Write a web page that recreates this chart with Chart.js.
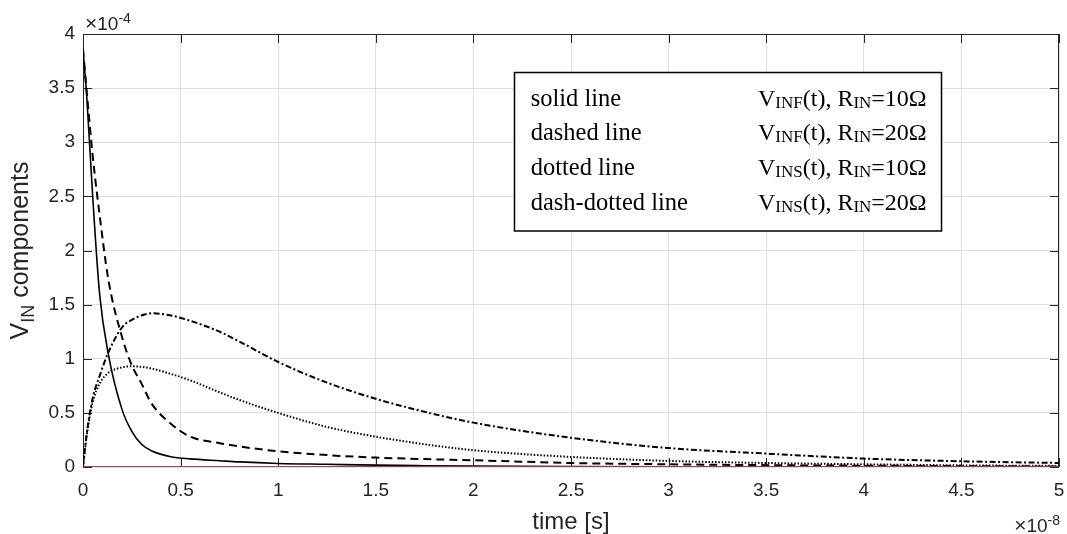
<!DOCTYPE html>
<html>
<head>
<meta charset="utf-8">
<title>V_IN components</title>
<script src="https://cdn.jsdelivr.net/npm/chart.js"></script>
<style>
  body { margin: 0; background: #fff; }
  canvas { display: block; }
</style>
</head>
<body>
<canvas id="chart" width="1067" height="534"></canvas>
<script>
// time in units of 1e-8 s, voltages in units of 1e-4
const time    = [0, 0.02, 0.05, 0.085, 0.13, 0.2, 0.25, 0.3, 0.35, 0.45, 0.55, 0.7, 0.8, 1.0, 1.25, 1.5, 1.75, 2.0, 2.5, 3.0, 3.5, 4.0, 4.5, 5.0];
const vinfR10 = [3.86, 3.4, 2.49, 1.6, 1.04, 0.53, 0.33, 0.21, 0.15, 0.095, 0.075, 0.058, 0.047, 0.033, 0.025, 0.017, 0.012, 0.008, 0.004, 0.002, 0.001, 0.0005, 0, 0];
const vinfR20 = [3.86, 3.45, 2.87, 2.33, 1.73, 1.2, 0.94, 0.77, 0.59, 0.40, 0.28, 0.22, 0.19, 0.145, 0.11, 0.087, 0.073, 0.062, 0.037, 0.025, 0.017, 0.012, 0.008, 0.005];
const vinsR10 = [0, 0.3, 0.6, 0.77, 0.87, 0.92, 0.93, 0.925, 0.91, 0.86, 0.80, 0.69, 0.62, 0.50, 0.37, 0.28, 0.21, 0.155, 0.093, 0.056, 0.037, 0.025, 0.015, 0.01];
const vinsR20 = [0, 0.32, 0.64, 0.84, 1.06, 1.29, 1.36, 1.40, 1.42, 1.40, 1.35, 1.25, 1.16, 0.97, 0.78, 0.63, 0.51, 0.41, 0.27, 0.175, 0.124, 0.078, 0.053, 0.037];
const zeroTime = [0, 5];
const zeroVals = [0, 0];

const xTickLabels = ['0', '0.5', '1', '1.5', '2', '2.5', '3', '3.5', '4', '4.5', '5'];
const yTickLabels = ['0', '0.5', '1', '1.5', '2', '2.5', '3', '3.5', '4'];

const legendRows = [
  ['solid line', 'INF', '10'],
  ['dashed line', 'INF', '20'],
  ['dotted line', 'INS', '10'],
  ['dash-dotted line', 'INS', '20']
];

const ink = '#262626';
const gridColor = '#dedede';
const sans = '"Liberation Sans", Arial, sans-serif';
const serif = '"Liberation Serif", "Times New Roman", serif';

const pts = (xs, ys) => xs.map((t, i) => ({ x: t, y: ys[i] }));

// draws runs of text with their own size / vertical offset, left to right
function richText(ctx, parts, x, y, align) {
  let total = 0;
  parts.forEach(p => { ctx.font = p.size + 'px ' + p.family; p.w = ctx.measureText(p.t).width; total += p.w; });
  let cx = align === 'right' ? x - total : align === 'center' ? x - total / 2 : x;
  parts.forEach(p => {
    ctx.font = p.size + 'px ' + p.family;
    ctx.fillText(p.t, cx, y + (p.dy || 0));
    cx += p.w;
  });
}

const decorations = {
  id: 'decorations',
  // axes box and inward ticks go under the curves so the red zero line shows on top
  beforeDatasetsDraw(chart) {
    const { ctx, chartArea: a, scales: { x, y } } = chart;
    ctx.save();
    ctx.strokeStyle = ink;
    ctx.lineWidth = 1;
    ctx.strokeRect(a.left + 0.5, a.top + 0.5, a.right - a.left - 1, a.bottom - a.top - 1);
    ctx.beginPath();
    x.ticks.forEach(t => {
      const px = Math.round(x.getPixelForValue(t.value)) + 0.5;
      ctx.moveTo(px, a.bottom); ctx.lineTo(px, a.bottom - 9);
      ctx.moveTo(px, a.top); ctx.lineTo(px, a.top + 9);
    });
    y.ticks.forEach(t => {
      const py = Math.round(y.getPixelForValue(t.value)) + 0.5;
      ctx.moveTo(a.left, py); ctx.lineTo(a.left + 9, py);
      ctx.moveTo(a.right, py); ctx.lineTo(a.right - 9, py);
    });
    ctx.stroke();
    ctx.restore();
  },
  afterDraw(chart) {
    const { ctx, chartArea: a } = chart;
    ctx.save();
    ctx.fillStyle = ink;
    ctx.textBaseline = 'alphabetic';

    // exponent labels
    richText(ctx, [
      { t: '\u00d7', size: 21, family: sans },
      { t: '10', size: 19, family: sans },
      { t: '-4', size: 14, family: sans, dy: -7 }
    ], 85, 30, 'left');
    richText(ctx, [
      { t: '\u00d7', size: 21, family: sans },
      { t: '10', size: 19, family: sans },
      { t: '-8', size: 14, family: sans, dy: -7 }
    ], 1060, 532, 'right');

    // axis titles
    richText(ctx, [{ t: 'time [s]', size: 24, family: sans }], (a.left + a.right) / 2, 529, 'center');
    ctx.save();
    ctx.translate(28, (a.top + a.bottom) / 2);
    ctx.rotate(-Math.PI / 2);
    richText(ctx, [
      { t: 'V', size: 25, family: sans },
      { t: 'IN', size: 18, family: sans, dy: 6 },
      { t: ' components', size: 25, family: sans }
    ], 0, 0, 'center');
    ctx.restore();

    // legend box
    ctx.fillStyle = '#fff';
    ctx.fillRect(514, 72, 428, 159);
    ctx.strokeStyle = '#000';
    ctx.lineWidth = 1.5;
    ctx.strokeRect(514.5, 72.5, 427, 158.5);
    ctx.fillStyle = '#000';
    legendRows.forEach((row, i) => {
      const base = 105.7 + i * 34.67;
      richText(ctx, [{ t: row[0], size: 24.5, family: serif }], 530.7, base, 'left');
      richText(ctx, [
        { t: 'V', size: 24, family: serif },
        { t: row[1], size: 17, family: serif, dy: 2 },
        { t: '(t), R', size: 24, family: serif },
        { t: 'IN', size: 17, family: serif, dy: 2 },
        { t: '=' + row[2] + '\u03a9', size: 24, family: serif }
      ], 926.7, base, 'right');
    });
    ctx.restore();
  }
};

const line = (data, dash, width) => ({
  data, borderColor: '#000', borderWidth: width, borderDash: dash,
  pointRadius: 0, fill: false, cubicInterpolationMode: 'monotone'
});

new Chart(document.getElementById('chart'), {
  type: 'line',
  data: {
    datasets: [
      { data: pts(zeroTime, zeroVals), borderColor: 'rgb(200,85,95)', borderWidth: 1.5, pointRadius: 0 },
      line(pts(time, vinfR10), [], 1.6),
      line(pts(time, vinfR20), [8, 5], 2),
      line(pts(time, vinsR10), [1.5, 1.8], 2),
      line(pts(time, vinsR20), [6, 2.5, 2, 2.5], 2)
    ]
  },
  options: {
    responsive: false,
    animation: false,
    events: [],
    layout: { padding: { top: 34, right: 8, left: 0, bottom: 0 } },
    plugins: { legend: { display: false }, tooltip: { enabled: false } },
    scales: {
      x: {
        type: 'linear', min: 0, max: 5,
        afterFit: s => { s.height = 67; s.paddingLeft = 0; s.paddingRight = 0; },
        ticks: {
          stepSize: 0.5, padding: 12, color: ink, maxRotation: 0, autoSkip: false,
          font: { family: sans, size: 19 },
          callback: (v, i) => xTickLabels[i]
        },
        grid: { color: gridColor, drawTicks: false },
        border: { display: false }
      },
      y: {
        type: 'linear', min: 0, max: 4,
        afterFit: s => { s.width = 83; s.paddingTop = 0; s.paddingBottom = 0; },
        ticks: {
          stepSize: 0.5, padding: 8, color: ink, autoSkip: false,
          font: { family: sans, size: 19 },
          callback: (v, i) => yTickLabels[i]
        },
        grid: { color: gridColor, drawTicks: false },
        border: { display: false }
      }
    }
  },
  plugins: [decorations]
});
</script>
</body>
</html>
